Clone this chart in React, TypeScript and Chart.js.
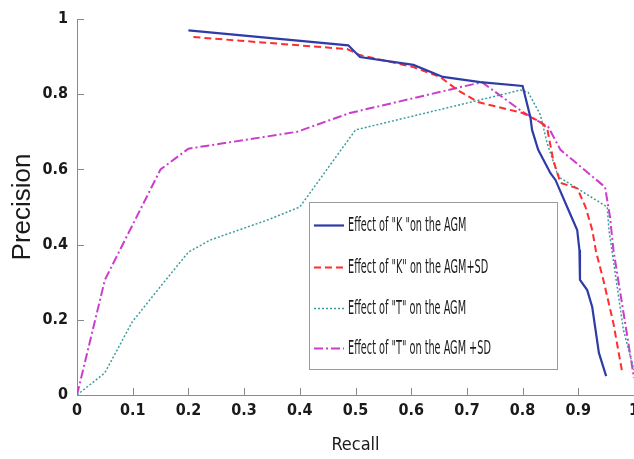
import React, { useEffect, useRef } from "react";
import { Chart, registerables } from "chart.js";

Chart.register(...registerables);

// ---- data ----
const seriesLabels = [
  'Effect of "K "on the AGM',
  'Effect of "K" on the AGM+SD',
  'Effect of "T" on the AGM',
  'Effect of "T" on the AGM +SD',
];

const kAgmRecall = [0.2, 0.487, 0.508, 0.604, 0.657, 0.724, 0.8, 0.814, 0.817, 0.828, 0.85, 0.859, 0.88, 0.898, 0.902, 0.903, 0.916, 0.925, 0.937, 0.95];
const kAgmPrecision = [0.97, 0.93, 0.899, 0.878, 0.846, 0.832, 0.822, 0.739, 0.705, 0.652, 0.59, 0.572, 0.5, 0.439, 0.386, 0.306, 0.279, 0.234, 0.112, 0.05];

const kSdRecall = [0.209, 0.485, 0.508, 0.604, 0.652, 0.683, 0.72, 0.8, 0.832, 0.844, 0.855, 0.868, 0.898, 0.913, 0.925, 0.932, 0.945, 0.963, 0.979];
const kSdPrecision = [0.952, 0.92, 0.904, 0.872, 0.846, 0.811, 0.779, 0.75, 0.726, 0.71, 0.625, 0.564, 0.55, 0.5, 0.439, 0.38, 0.306, 0.191, 0.059];

const tAgmRecall = [0, 0.05, 0.099, 0.149, 0.2, 0.239, 0.341, 0.4, 0.5, 0.724, 0.796, 0.81, 0.832, 0.844, 0.862, 0.868, 0.952, 0.955, 0.981, 1.0];
const tAgmPrecision = [0, 0.059, 0.194, 0.287, 0.38, 0.412, 0.465, 0.5, 0.705, 0.785, 0.811, 0.805, 0.745, 0.67, 0.59, 0.577, 0.5, 0.439, 0.173, 0.066];

const tSdRecall = [0, 0.05, 0.15, 0.2, 0.395, 0.49, 0.727, 0.8, 0.846, 0.868, 0.948, 0.957, 0.963, 1.0];
const tSdPrecision = [0, 0.306, 0.6, 0.655, 0.7, 0.75, 0.832, 0.753, 0.713, 0.652, 0.553, 0.473, 0.386, 0.045];

const xTickValues = [0, 0.1, 0.2, 0.3, 0.4, 0.5, 0.6, 0.7, 0.8, 0.9, 1];
const xTickLabels = ["0", "0.1", "0.2", "0.3", "0.4", "0.5", "0.6", "0.7", "0.8", "0.9", "1"];
const yTickValues = [0, 0.2, 0.4, 0.6, 0.8, 1];
const yTickLabels = ["0", "0.2", "0.4", "0.6", "0.8", "1"];

const pts = (xs: number[], ys: number[]) => xs.map((x, i) => ({ x, y: ys[i] }));

const NARROW = "'Liberation Sans Narrow', 'DejaVu Sans Condensed', 'Liberation Sans', sans-serif";
const AXIS_GRAY = "#8a8a8a";

const tickMarks = {
  id: "tickMarks",
  afterDraw(chart: any) {
    const { ctx, chartArea, scales } = chart;
    ctx.save();
    ctx.strokeStyle = AXIS_GRAY;
    ctx.lineWidth = 1;
    ctx.beginPath();
    for (const v of xTickValues) {
      if (v === 0) continue;
      const px = Math.round(scales.x.getPixelForValue(v)) + 0.5;
      ctx.moveTo(px, chartArea.bottom);
      ctx.lineTo(px, chartArea.bottom - 7);
    }
    for (const v of yTickValues) {
      if (v === 0) continue;
      const py = Math.round(scales.y.getPixelForValue(v)) + 0.5;
      ctx.moveTo(chartArea.left, py);
      ctx.lineTo(chartArea.left + 7, py);
    }
    ctx.stroke();
    ctx.restore();
  },
};

const boxLegend = {
  id: "boxLegend",
  afterDraw(chart: any) {
    const { ctx } = chart;
    const bx = 309.5, by = 202.5, bw = 248, bh = 167;
    ctx.save();
    ctx.fillStyle = "#ffffff";
    ctx.fillRect(bx, by, bw, bh);
    ctx.strokeStyle = "#9a9a9a";
    ctx.lineWidth = 1;
    ctx.strokeRect(bx, by, bw, bh);
    const rows = [225, 267, 308, 348];
    chart.data.datasets.forEach((ds: any, i: number) => {
      const y = rows[i];
      ctx.save();
      ctx.strokeStyle = ds.borderColor;
      ctx.lineWidth = ds.borderWidth;
      ctx.setLineDash(ds.borderDash || []);
      ctx.beginPath();
      ctx.moveTo(314, y + 0.5);
      ctx.lineTo(344, y + 0.5);
      ctx.stroke();
      ctx.restore();
      ctx.save();
      ctx.fillStyle = "#1a1a1a";
      ctx.font = `20px ${NARROW}`;
      ctx.textBaseline = "middle";
      ctx.textAlign = "left";
      ctx.translate(348, y + 1);
      ctx.scale(0.54, 1);
      ctx.fillText(ds.label, 0, 0);
      ctx.restore();
    });
    ctx.restore();
  },
};

export default function App() {
  const ref = useRef<HTMLCanvasElement | null>(null);

  useEffect(() => {
    if (!ref.current) return;
    const chart = new Chart(ref.current, {
      type: "line",
      data: {
        datasets: [
          {
            label: seriesLabels[0],
            data: pts(kAgmRecall, kAgmPrecision),
            borderColor: "#2f3ca8",
            borderWidth: 2.2,
            pointRadius: 0,
            tension: 0,
          },
          {
            label: seriesLabels[1],
            data: pts(kSdRecall, kSdPrecision),
            borderColor: "#ff2d2d",
            borderWidth: 2,
            borderDash: [7, 4],
            pointRadius: 0,
            tension: 0,
          },
          {
            label: seriesLabels[2],
            data: pts(tAgmRecall, tAgmPrecision),
            borderColor: "#3f9c9c",
            borderWidth: 1.5,
            borderDash: [2, 2],
            pointRadius: 0,
            tension: 0,
          },
          {
            label: seriesLabels[3],
            data: pts(tSdRecall, tSdPrecision),
            borderColor: "#cc3ccc",
            borderWidth: 2,
            borderDash: [9, 3, 2, 3],
            pointRadius: 0,
            tension: 0,
          },
        ],
      },
      options: {
        animation: false,
        responsive: false,
        devicePixelRatio: 1,
        layout: { padding: { left: 0, top: 19, right: 66, bottom: 0 } },
        plugins: { legend: { display: false }, tooltip: { enabled: false } },
        scales: {
          x: {
            type: "linear",
            min: 0,
            max: 1,
            afterBuildTicks: (s: any) => {
              s.ticks = xTickValues.map((v) => ({ value: v }));
            },
            afterFit: (s: any) => {
              s.height = 64;
            },
            ticks: {
              padding: 6,
              color: "#1a1a1a",
              font: { family: NARROW, size: 16, weight: "bold" },
              callback: (v: any) => xTickLabels[xTickValues.indexOf(Math.round(Number(v) * 10) / 10)],
              maxRotation: 0,
              autoSkip: false,
            },
            grid: { display: false, drawTicks: false },
            border: { display: true, color: AXIS_GRAY, width: 1 },
            title: {
              display: true,
              text: "Recall",
              color: "#1a1a1a",
              font: { family: NARROW, size: 18 },
              padding: { top: 0, bottom: 3 },
            },
          },
          y: {
            type: "linear",
            min: 0,
            max: 1,
            afterBuildTicks: (s: any) => {
              s.ticks = yTickValues.map((v) => ({ value: v }));
            },
            afterFit: (s: any) => {
              s.width = 77;
            },
            ticks: {
              padding: 9,
              color: "#1a1a1a",
              font: { family: NARROW, size: 16, weight: "bold" },
              callback: (v: any) => yTickLabels[yTickValues.indexOf(Math.round(Number(v) * 10) / 10)],
              autoSkip: false,
            },
            grid: { display: false, drawTicks: false },
            border: { display: true, color: AXIS_GRAY, width: 1 },
            title: {
              display: true,
              text: "Precision",
              color: "#1a1a1a",
              font: { family: "'Liberation Sans', Arial, sans-serif", size: 26 },
              padding: { top: 7, bottom: 0 },
            },
          },
        },
      },
      plugins: [tickMarks, boxLegend],
    } as any);
    return () => chart.destroy();
  }, []);

  return (
    <div style={{ position: "fixed", left: 0, top: 0, width: 634, height: 459, overflow: "hidden", background: "#fff" }}>
      <canvas ref={ref} width={700} height={459} style={{ display: "block", width: 700, height: 459 }} />
    </div>
  );
}
